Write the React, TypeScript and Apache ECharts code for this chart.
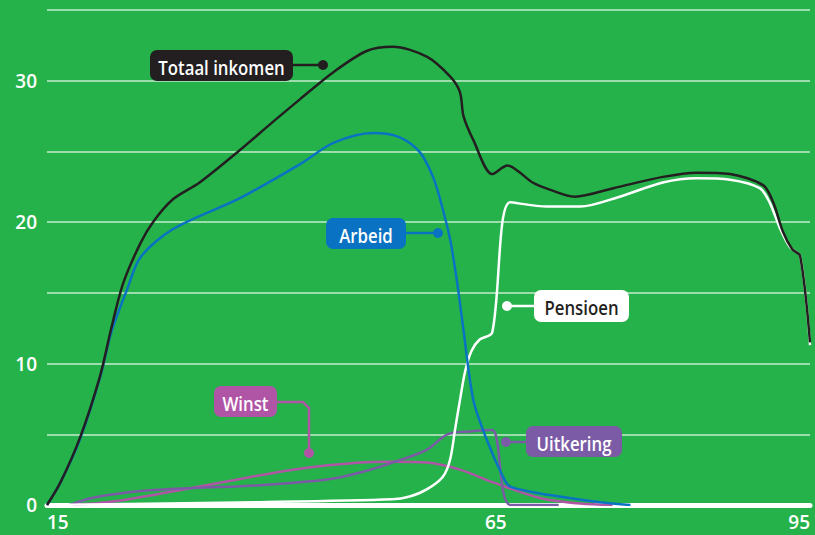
import React, { useEffect, useRef } from "react";
import * as echarts from "echarts";

// Age (x) / value (y) pairs
const totaal: number[][] = [[15,0],[16.5,1.6],[18.7,4.8],[20.9,9.1],[22.2,12.6],[23.5,15.7],[25.4,18.5],[26.8,20.0],[29.0,21.6],[32.0,22.8],[36.5,25.1],[40,27.0],[43.2,28.7],[46.9,30.6],[50.6,32.1],[53.5,32.4],[57.3,31.7],[59.9,30.3],[61.0,29.2],[61.4,27.5],[62.5,25.8],[64.6,23.4],[66.3,24.0],[67.5,23.6],[69.1,22.8],[71.0,22.3],[73.8,21.8],[78.1,22.4],[83.6,23.2],[87.4,23.5],[91.1,23.4],[94.8,22.6],[95.9,21.4],[97.0,19.3],[98.0,18.1],[98.9,17.6],[100,11.5]];
const arbeid: number[][] = [[15,0],[16.5,1.6],[18.7,4.7],[20.9,9.0],[22.2,12.3],[23.9,15.2],[25.4,17.5],[29.0,19.5],[36.5,21.7],[43.2,24.1],[46.9,25.6],[51.3,26.3],[54.3,26.0],[56.6,24.9],[58.0,23.2],[58.8,21.6],[59.9,18.8],[60.7,15.7],[61.35,12.6],[62.5,7.4],[64.0,4.6],[65.8,2.0],[66.6,1.3],[71.0,0.7],[76.6,0.2],[80,0]];
const pensioen: number[][] = [[15,0],[38.7,0.2],[53.5,0.4],[55.4,0.6],[57.3,1.1],[59.1,2.0],[59.9,3.2],[60.5,5.5],[61.0,7.4],[61.6,9.5],[62.3,10.9],[63.2,11.7],[64.6,12.2],[66.6,21.4],[70.7,21.1],[74.4,21.1],[78.8,21.8],[83.6,22.8],[87.4,23.1],[91.1,23.0],[94.4,22.4],[95.5,21.4],[96.7,19.5],[97.8,18.2],[98.9,17.6],[100,11.3]];
const uitkering: number[][] = [[17.5,0],[20,0.5],[25.7,1.0],[31.3,1.2],[38.7,1.4],[46.2,1.8],[49.9,2.3],[53.5,3.0],[57.3,3.9],[59.6,5.0],[62.1,5.2],[64.6,5.3],[66.6,0],[72,0]];
const winst: number[][] = [[18,0],[20.1,0.1],[23,0.3],[27.6,0.8],[30.2,1.1],[35.3,1.7],[42.4,2.5],[49.9,3.0],[53.5,3.05],[57.3,3.0],[61.0,2.5],[64.7,1.6],[69.9,0.5],[74.4,0.1],[78,0]];

const xTickValues = [15, 65, 100];
const xTickLabels = ["15", "65", "95"];
const yLabelStep = 10;

const BG = "#26b24b";
const C_TOT = "#231f20";
const C_ARB = "#0a72c2";
const C_PEN = "#ffffff";
const C_UIT = "#7c5ba6";
const C_WIN = "#b055a5";
const LABEL_FONT = "'Open Sans', sans-serif";
const AXIS_FONT = "'Open Sans', sans-serif";

function box(x: number, y: number, w: number, h: number, fill: string, text: string, color: string) {
  return [
    { type: "rect", shape: { x, y, width: w, height: h, r: 7 }, style: { fill }, z: 100 },
    {
      type: "text",
      x: x + w / 2,
      y: y + h / 2 + 1,
      scaleX: 0.84,
      style: { text, fill: color, font: `600 20px ${LABEL_FONT}`, align: "center", verticalAlign: "middle" },
      z: 101,
    },
  ];
}
function leader(points: number[][], dot: number[], color: string) {
  return [
    { type: "polyline", shape: { points }, style: { stroke: color, lineWidth: 2.5, fill: "none" }, z: 99 },
    { type: "circle", shape: { cx: dot[0], cy: dot[1], r: 5 }, style: { fill: color }, z: 99 },
  ];
}

export default function App() {
  const ref = useRef<HTMLDivElement>(null);
  useEffect(() => {
    const chart = echarts.init(ref.current!, null, { renderer: "svg" });
    const line = (name: string, data: number[][], color: string, w = 2.5) => ({
      name,
      type: "line",
      data,
      smooth: 0.3,
      showSymbol: false,
      symbol: "none",
      lineStyle: { color, width: w },
    });
    chart.setOption({
      animation: false,
      backgroundColor: BG,
      grid: { left: 47, right: 5, top: 10, bottom: 30 },
      xAxis: {
        type: "value",
        min: 15,
        max: 100,
        interval: 5,
        axisLine: { show: true, lineStyle: { color: "#ffffff", width: 5, cap: "round" } },
        axisTick: { show: false },
        splitLine: { show: false },
        axisLabel: {
          color: "#ffffff",
          fontFamily: AXIS_FONT,
          fontWeight: 600,
          fontSize: 19,
          margin: 7,
          showMinLabel: true,
          showMaxLabel: true,
          alignMinLabel: "left",
          alignMaxLabel: "right",
          formatter: (v: number) => {
            const i = xTickValues.indexOf(v);
            return i >= 0 ? xTickLabels[i] : "";
          },
        },
      },
      yAxis: {
        type: "value",
        min: 0,
        max: 35,
        interval: 5,
        axisLine: { show: false },
        axisTick: { show: false },
        splitLine: { show: true, lineStyle: { color: "rgba(255,255,255,0.55)", width: 2 } },
        axisLabel: {
          color: "#ffffff",
          fontFamily: AXIS_FONT,
          fontWeight: 600,
          fontSize: 19,
          margin: 10,
          formatter: (v: number) => (v % yLabelStep === 0 ? String(v) : ""),
        },
      },
      series: [
        line("Winst", winst, C_WIN),
        line("Uitkering", uitkering, C_UIT),
        line("Pensioen", pensioen, C_PEN),
        line("Arbeid", arbeid, C_ARB),
        line("Totaal inkomen", totaal, C_TOT),
      ],
      graphic: [
        ...leader([[293, 65], [323, 65]], [323, 65], C_TOT),
        ...box(150, 50, 143, 31, C_TOT, "Totaal inkomen", "#ffffff"),
        ...leader([[406, 233], [438, 233]], [438, 233], C_ARB),
        ...box(326, 218, 80, 31, C_ARB, "Arbeid", "#ffffff"),
        ...leader([[507, 306], [534, 306]], [507, 306], C_PEN),
        ...box(534, 290, 95, 32, C_PEN, "Pensioen", C_TOT),
        ...leader([[277, 402], [303, 402], [309, 408], [309, 453]], [309, 453], C_WIN),
        ...box(214, 386, 63, 31, C_WIN, "Winst", "#ffffff"),
        ...leader([[506, 442], [526, 442]], [506, 442], C_UIT),
        ...box(526, 426, 96, 31, C_UIT, "Uitkering", "#ffffff"),
      ],
    });
    return () => chart.dispose();
  }, []);
  return <div ref={ref} style={{ position: "absolute", left: 0, top: 0, width: 815, height: 535 }} />;
}
